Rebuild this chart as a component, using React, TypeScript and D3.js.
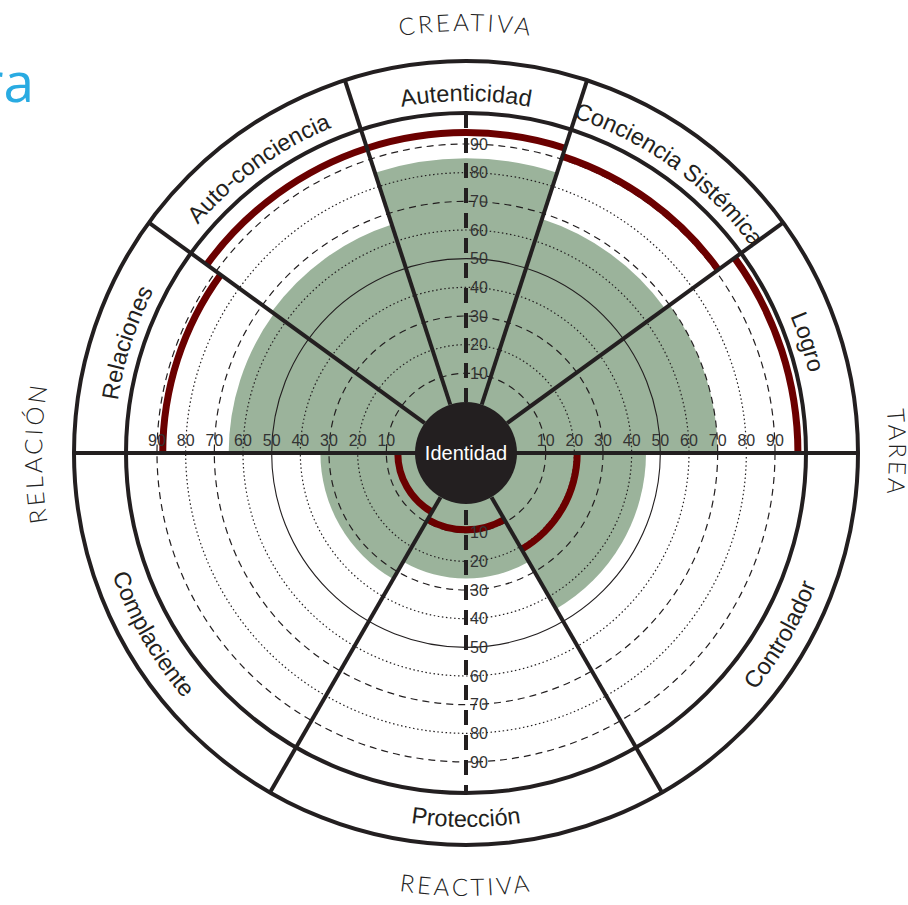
import React from 'react';
import * as d3 from 'd3';

// ---- data ----
const creativeCategories = ["Relaciones", "Auto-conciencia", "Autenticidad", "Conciencia Sistémica", "Logro"];
const creativeScores = [65, 66, 85, 68, 70];
const creativeBenchmark = [88, 94, 94, 91, 98];
const reactiveCategories = ["Complaciente", "Protección", "Controlador"];
const reactiveScores = [33, 26, 45];
const reactiveBenchmark = [6, 9, 21];
const gridTicks = [10, 20, 30, 40, 50, 60, 70, 80, 90];
const gridStyles = ["dashed", "dotted", "dashed", "dotted", "solid", "dotted", "dashed", "dotted", "dashed"];
const dimensionLabels = ["CREATIVA", "TAREA", "REACTIVA", "RELACIÓN"];
const centerLabel = "Identidad";
const titleFragment = "ra";

const W = 908, H = 905, cx = 466, cy = 453;
const R_OUT = 392, R_RING = 340, R_CORE = 51;
const INK = "#231f20";
const GREEN = "#9bb39b";
const RED = "#6b0000";
const FONT = "'Liberation Sans', Arial, Helvetica, sans-serif";

export default function App() {
  const r = d3.scaleLinear().domain([0, 90]).range([R_CORE, 309]);
  const pt = (a: number, rad: number) => [cx + rad * Math.sin(a), cy - rad * Math.cos(a)];
  const deg = (d: number) => (d * Math.PI) / 180;

  const cStep = Math.PI / creativeCategories.length;
  const rStep = Math.PI / reactiveCategories.length;
  const sectors = [
    ...creativeCategories.map((name, i) => ({
      name, start: -Math.PI / 2 + i * cStep, end: -Math.PI / 2 + (i + 1) * cStep,
      score: creativeScores[i], bench: creativeBenchmark[i], outward: true,
    })),
    ...reactiveCategories.map((name, i) => ({
      name, start: (3 * Math.PI) / 2 - i * rStep, end: (3 * Math.PI) / 2 - (i + 1) * rStep,
      score: reactiveScores[i], bench: reactiveBenchmark[i], outward: false,
    })),
  ];
  const arc = d3.arc();

  const boundaries: number[] = [];
  for (let i = 1; i < creativeCategories.length; i++) boundaries.push(-Math.PI / 2 + i * cStep);
  for (let i = 1; i < reactiveCategories.length; i++) boundaries.push((3 * Math.PI) / 2 - i * rStep);

  const labelArc = (mid: number, rad: number, outward: boolean) => {
    const span = deg(80);
    const a0 = outward ? mid - span : mid + span;
    const a1 = outward ? mid + span : mid - span;
    const [x0, y0] = pt(a0, rad);
    const [x1, y1] = pt(a1, rad);
    return `M${x0},${y0} A${rad},${rad} 0 0 ${outward ? 1 : 0} ${x1},${y1}`;
  };

  const dash = (s: string) => (s === "dashed" ? "7 5" : s === "dotted" ? "1.5 2.6" : undefined);

  const dims = [
    { text: dimensionLabels[0], mid: 0, rad: 422, outward: true },
    { text: dimensionLabels[1], mid: Math.PI / 2, rad: 423, outward: true },
    { text: dimensionLabels[2], mid: Math.PI, rad: 443, outward: false },
    { text: dimensionLabels[3], mid: -Math.PI / 2, rad: 424, outward: true },
  ];

  return (
    <svg width={W} height={H} style={{ position: "absolute", left: 0, top: 0, background: "#fff" }}>
      <defs>
        {sectors.map((s, i) => (
          <path key={i} id={`sl${i}`} d={labelArc((s.start + s.end) / 2, s.outward ? 352 : 374, s.outward)} fill="none" />
        ))}
        {dims.map((d, i) => (
          <path key={i} id={`dl${i}`} d={labelArc(d.mid, d.rad, d.outward)} fill="none" />
        ))}
      </defs>
      <rect width={W} height={H} fill="#fff" />

      {/* title fragment */}
      <text x={34} y={102} textAnchor="end" fontFamily="'Open Sans', sans-serif" fontSize={55} fill="#29abe2">{titleFragment}</text>

      {/* scores */}
      {sectors.map((s, i) => (
        <path key={i} transform={`translate(${cx},${cy})`} fill={GREEN}
          d={arc({ innerRadius: 0, outerRadius: r(s.score), startAngle: s.start, endAngle: s.end }) as string} />
      ))}

      {/* grid circles */}
      {gridTicks.map((t, i) => (
        <circle key={t} cx={cx} cy={cy} r={r(t)} fill="none" stroke={INK}
          strokeWidth={gridStyles[i] === "solid" ? 1.1 : 1.2} strokeDasharray={dash(gridStyles[i])} />
      ))}

      {/* benchmark */}
      {sectors.map((s, i) => (
        <path key={i} transform={`translate(${cx},${cy})`} fill={RED}
          d={arc({ innerRadius: r(s.bench) - 3.5, outerRadius: r(s.bench) + 3.5, startAngle: s.start, endAngle: s.end }) as string} />
      ))}

      {/* sector boundaries */}
      {boundaries.map((a, i) => {
        const [x0, y0] = pt(a, R_CORE);
        const [x1, y1] = pt(a, R_OUT);
        return <line key={i} x1={x0} y1={y0} x2={x1} y2={y1} stroke={INK} strokeWidth={4} />;
      })}
      <line x1={cx - R_OUT} y1={cy} x2={cx + R_OUT} y2={cy} stroke={INK} strokeWidth={4} />

      {/* vertical axis */}
      <line x1={cx} y1={cy - R_RING} x2={cx} y2={cy - R_CORE} stroke={INK} strokeWidth={4} strokeDasharray="15 10" />
      <line x1={cx} y1={cy + 57} x2={cx} y2={cy + R_RING} stroke={INK} strokeWidth={4} strokeDasharray="15 10" />

      {/* rings */}
      <circle cx={cx} cy={cy} r={R_RING} fill="none" stroke={INK} strokeWidth={4} />
      <circle cx={cx} cy={cy} r={R_OUT} fill="none" stroke={INK} strokeWidth={4} />

      {/* tick labels */}
      <g fontFamily={FONT} fontSize={16} fill="#333">
        {gridTicks.map((t) => (
          <g key={t}>
            <text x={cx - r(t)} y={cy - 7} textAnchor="middle">{t}</text>
            <text x={cx + r(t)} y={cy - 7} textAnchor="middle">{t}</text>
            <text x={cx + 4} y={cy - r(t)} dy="0.36em">{t}</text>
            <text x={cx + 4} y={cy + r(t)} dy="0.36em">{t}</text>
          </g>
        ))}
      </g>

      {/* center */}
      <circle cx={cx} cy={cy} r={R_CORE} fill={INK} />
      <text x={cx} y={cy} dy="0.36em" textAnchor="middle" fontFamily={FONT} fontSize={20} fill="#fff">{centerLabel}</text>

      {/* sector names */}
      <g fontFamily={FONT} fontSize={23.5} fill={INK}>
        {sectors.map((s, i) => (
          <text key={i} textAnchor="middle">
            <textPath href={`#sl${i}`} startOffset="50%">{s.name}</textPath>
          </text>
        ))}
      </g>

      {/* dimension names */}
      <g fontFamily="Lato, 'Open Sans', sans-serif" fontWeight={300} fontSize={24} fill="#222" letterSpacing={3}>
        {dims.map((d, i) => (
          <text key={i} textAnchor="middle">
            <textPath href={`#dl${i}`} startOffset="50%">{d.text}</textPath>
          </text>
        ))}
      </g>
    </svg>
  );
}
